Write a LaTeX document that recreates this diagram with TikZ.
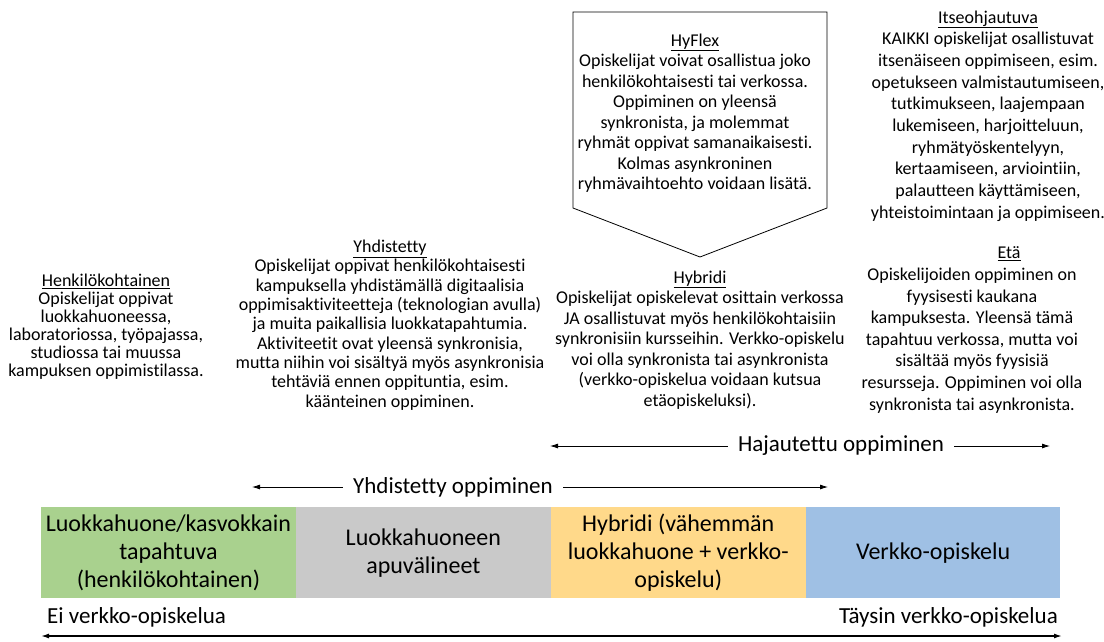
\documentclass[tikz,border=0pt]{standalone}
\usepackage{fontspec}
\setmainfont{Carlito}[Ligatures=NoCommon]
\usepackage{tikz}
\usetikzlibrary{positioning, arrows.meta, calc}

\definecolor{bandgreen}{HTML}{A9D18E}
\definecolor{bandgray}{HTML}{C9C9C9}
\definecolor{bandyellow}{HTML}{FFD98A}
\definecolor{bandblue}{HTML}{9FC0E4}

\begin{document}
\begin{tikzpicture}[x=1pt, y=-1pt, node distance=0pt,
  every node/.style={align=center, inner sep=0pt},
  desc/.style={font=\fontsize{18}{20.5}\selectfont},
  band/.style={minimum height=91pt, minimum width=254.5pt, font=\fontsize{24}{28}\selectfont},
  scalelabel/.style={font=\fontsize{23}{26}\selectfont, inner xsep=10pt},
  span/.style={-{Latex[length=8pt, width=5pt]}, thick}]
  \useasboundingbox (0,0) rectangle (1104,641);

  % Descriptions
  \node[desc, font=\fontsize{18}{18}\selectfont] (henk) at (106,327) {\underline{Henkilökohtainen}\\Opiskelijat oppivat\\luokkahuoneessa,\\laboratoriossa, työpajassa,\\studiossa tai muussa\\kampuksen oppimistilassa.};
  \node[desc, font=\fontsize{18}{19.3}\selectfont] (yhdist) at (390,325) {\underline{Yhdistetty}\\Opiskelijat oppivat henkilökohtaisesti\\kampuksella yhdistämällä digitaalisia\\oppimisaktiviteetteja (teknologian avulla)\\ja muita paikallisia luokkatapahtumia.\\Aktiviteetit ovat yleensä synkronisia,\\mutta niihin voi sisältyä myös asynkronisia\\tehtäviä ennen oppituntia, esim.\\käänteinen oppiminen.};
  \node[desc] (hybridi) at (700,340) {\underline{Hybridi}\\Opiskelijat opiskelevat osittain verkossa\\JA osallistuvat myös henkilökohtaisiin\\synkronisiin kursseihin. Verkko-opiskelu\\voi olla synkronista tai asynkronista\\(verkko-opiskelua voidaan kutsua\\etäopiskeluksi).};
  \node[desc, font=\fontsize{18}{21.6}\selectfont] (eta) at (972,330) {\hspace*{74pt}\underline{Etä}\\Opiskelijoiden oppiminen on\\fyysisesti kaukana\\kampuksesta. Yleensä tämä\\tapahtuu verkossa, mutta voi\\sisältää myös fyysisiä\\resursseja. Oppiminen voi olla\\synkronista tai asynkronista.};
  \node[desc, font=\fontsize{18}{21.7}\selectfont] (itse) at (988,116) {\underline{Itseohjautuva}\\KAIKKI opiskelijat osallistuvat\\itsenäiseen oppimiseen, esim.\\opetukseen valmistautumiseen,\\tutkimukseen, laajempaan\\lukemiseen, harjoitteluun,\\ryhmätyöskentelyyn,\\kertaamiseen, arviointiin,\\palautteen käyttämiseen,\\yhteistoimintaan ja oppimiseen.};

  % HyFlex box
  \draw[thick] (573,12) -- (827,12) -- (827,208) -- (700,257) -- (573,208) -- cycle;
  \node[desc] (hyflex) at (695,113) {\underline{HyFlex}\\Opiskelijat voivat osallistua joko\\henkilökohtaisesti tai verkossa.\\Oppiminen on yleensä\\synkronista, ja molemmat\\ryhmät oppivat samanaikaisesti.\\Kolmas asynkroninen\\ryhmävaihtoehto voidaan lisätä.};

  % Spans
  \node[scalelabel] (haj) at (841,446) {Hajautettu oppiminen};
  \coordinate (hajL) at (550,446);
  \coordinate (hajR) at (1050,446);
  \draw[span] (haj) -- (hajL);
  \draw[span] (haj) -- (hajR);

  \node[scalelabel] (yhd) at (453,487) {Yhdistetty oppiminen};
  \coordinate (yhdL) at (252,487);
  \coordinate (yhdR) at (828,487);
  \draw[span] (yhd) -- (yhdL);
  \draw[span] (yhd) -- (yhdR);

  % Bands
  \node[band, fill=bandgreen, anchor=north west] (B1) at (41,507) {Luokkahuone/kasvokkain\\tapahtuva\\(henkilökohtainen)};
  \node[band, fill=bandgray, right=of B1] (B2) {Luokkahuoneen\\apuvälineet};
  \node[band, fill=bandyellow, right=of B2] (B3) {Hybridi (vähemmän\\luokkahuone + verkko-\\opiskelu)};
  \node[band, fill=bandblue, right=of B3] (B4) {Verkko-opiskelu};

  % Bottom scale
  \node[scalelabel, inner xsep=0pt, anchor=west] (ei) at (47,617) {Ei verkko-opiskelua};
  \node[scalelabel, inner xsep=0pt, anchor=east] (taysin) at (1058,617) {Täysin verkko-opiskelua};
  \coordinate (scaleL) at (41,636);
  \coordinate (scaleR) at (1062,636);
  \draw[span, {Latex[length=8pt, width=5pt]}-{Latex[length=8pt, width=5pt]}, line width=1.4pt] (scaleL) -- (scaleR);
\end{tikzpicture}
\end{document}
